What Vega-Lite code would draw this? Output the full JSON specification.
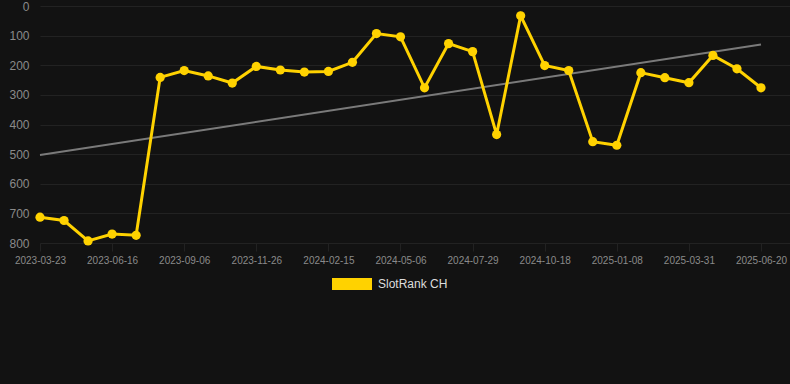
{
  "$schema": "https://vega.github.io/schema/vega-lite/v6.json",
  "autosize": {"type": "none"},
  "width": 750,
  "height": 237,
  "padding": {"left": 40, "top": 6, "right": 0, "bottom": 141},
  "background": "#121212",
  "config": {
    "view": {"stroke": null},
    "font": "Liberation Sans",
    "axis": {"gridColor": "#222222", "gridWidth": 1, "domain": false, "labelFont": "Liberation Sans"}
  },
  "datasets": {
    "rank": [
      {"date": "2023-03-23", "rank": 713, "series": "SlotRank CH"},
      {"date": "2023-04-20", "rank": 724, "series": "SlotRank CH"},
      {"date": "2023-05-19", "rank": 793, "series": "SlotRank CH"},
      {"date": "2023-06-16", "rank": 770, "series": "SlotRank CH"},
      {"date": "2023-07-13", "rank": 774, "series": "SlotRank CH"},
      {"date": "2023-08-09", "rank": 241, "series": "SlotRank CH"},
      {"date": "2023-09-06", "rank": 218, "series": "SlotRank CH"},
      {"date": "2023-10-03", "rank": 236, "series": "SlotRank CH"},
      {"date": "2023-10-30", "rank": 260, "series": "SlotRank CH"},
      {"date": "2023-11-26", "rank": 204, "series": "SlotRank CH"},
      {"date": "2023-12-23", "rank": 216, "series": "SlotRank CH"},
      {"date": "2024-01-19", "rank": 223, "series": "SlotRank CH"},
      {"date": "2024-02-15", "rank": 221, "series": "SlotRank CH"},
      {"date": "2024-03-12", "rank": 190, "series": "SlotRank CH"},
      {"date": "2024-04-09", "rank": 93, "series": "SlotRank CH"},
      {"date": "2024-05-06", "rank": 104, "series": "SlotRank CH"},
      {"date": "2024-06-03", "rank": 276, "series": "SlotRank CH"},
      {"date": "2024-07-01", "rank": 127, "series": "SlotRank CH"},
      {"date": "2024-07-29", "rank": 154, "series": "SlotRank CH"},
      {"date": "2024-08-25", "rank": 434, "series": "SlotRank CH"},
      {"date": "2024-09-21", "rank": 33, "series": "SlotRank CH"},
      {"date": "2024-10-18", "rank": 201, "series": "SlotRank CH"},
      {"date": "2024-11-14", "rank": 218, "series": "SlotRank CH"},
      {"date": "2024-12-12", "rank": 458, "series": "SlotRank CH"},
      {"date": "2025-01-08", "rank": 470, "series": "SlotRank CH"},
      {"date": "2025-02-04", "rank": 225, "series": "SlotRank CH"},
      {"date": "2025-03-03", "rank": 242, "series": "SlotRank CH"},
      {"date": "2025-03-31", "rank": 259, "series": "SlotRank CH"},
      {"date": "2025-04-27", "rank": 167, "series": "SlotRank CH"},
      {"date": "2025-05-24", "rank": 212, "series": "SlotRank CH"},
      {"date": "2025-06-20", "rank": 276, "series": "SlotRank CH"}
    ],
    "trend": [
      {"date": "2023-03-23", "rank": 503},
      {"date": "2025-06-20", "rank": 130}
    ]
  },
  "encoding": {
    "x": {
      "field": "date",
      "type": "ordinal",
      "scale": {"type": "point", "padding": 0.6035, "align": 0},
      "axis": {
        "title": null,
        "values": ["2023-03-23", "2023-06-16", "2023-09-06", "2023-11-26", "2024-02-15", "2024-05-06", "2024-07-29", "2024-10-18", "2025-01-08", "2025-03-31", "2025-06-20"],
        "labelAngle": 0,
        "labelColor": "#8a8a8a",
        "labelFontSize": 10,
        "labelPadding": 4,
        "ticks": true,
        "tickSize": 8,
        "tickColor": "#222222",
        "labelOverlap": false,
        "labelFlush": false
      }
    },
    "y": {
      "field": "rank",
      "type": "quantitative",
      "scale": {"domain": [0, 800], "reverse": true, "nice": false, "zero": false},
      "axis": {
        "title": null,
        "values": [0, 100, 200, 300, 400, 500, 600, 700, 800],
        "labelColor": "#8a8a8a",
        "labelFontSize": 12,
        "labelPadding": 11,
        "ticks": false
      }
    }
  },
  "layer": [
    {
      "data": {"name": "trend"},
      "mark": {"type": "line", "color": "#7a7a7a", "strokeWidth": 2}
    },
    {
      "data": {"name": "rank"},
      "mark": {"type": "line", "strokeWidth": 3},
      "encoding": {
        "color": {
          "field": "series",
          "type": "nominal",
          "scale": {"range": ["#FFD200"]},
          "legend": {
            "title": null,
            "orient": "none",
            "legendX": 292,
            "legendY": 258,
            "symbolType": "M-1,-0.3H1V0.3H-1Z",
            "symbolSize": 1600,
            "symbolFillColor": "#FFD200",
            "symbolStrokeColor": "#FFD200",
            "symbolStrokeWidth": 0,
            "symbolOpacity": 1,
            "labelColor": "#dddddd",
            "labelFontSize": 12,
            "labelFont": "Liberation Sans",
            "labelOffset": 6
          }
        }
      }
    },
    {
      "data": {"name": "rank"},
      "mark": {"type": "point", "filled": true, "size": 85, "opacity": 1},
      "encoding": {
        "color": {"field": "series", "type": "nominal", "scale": {"range": ["#FFD200"]}}
      }
    }
  ]
}
